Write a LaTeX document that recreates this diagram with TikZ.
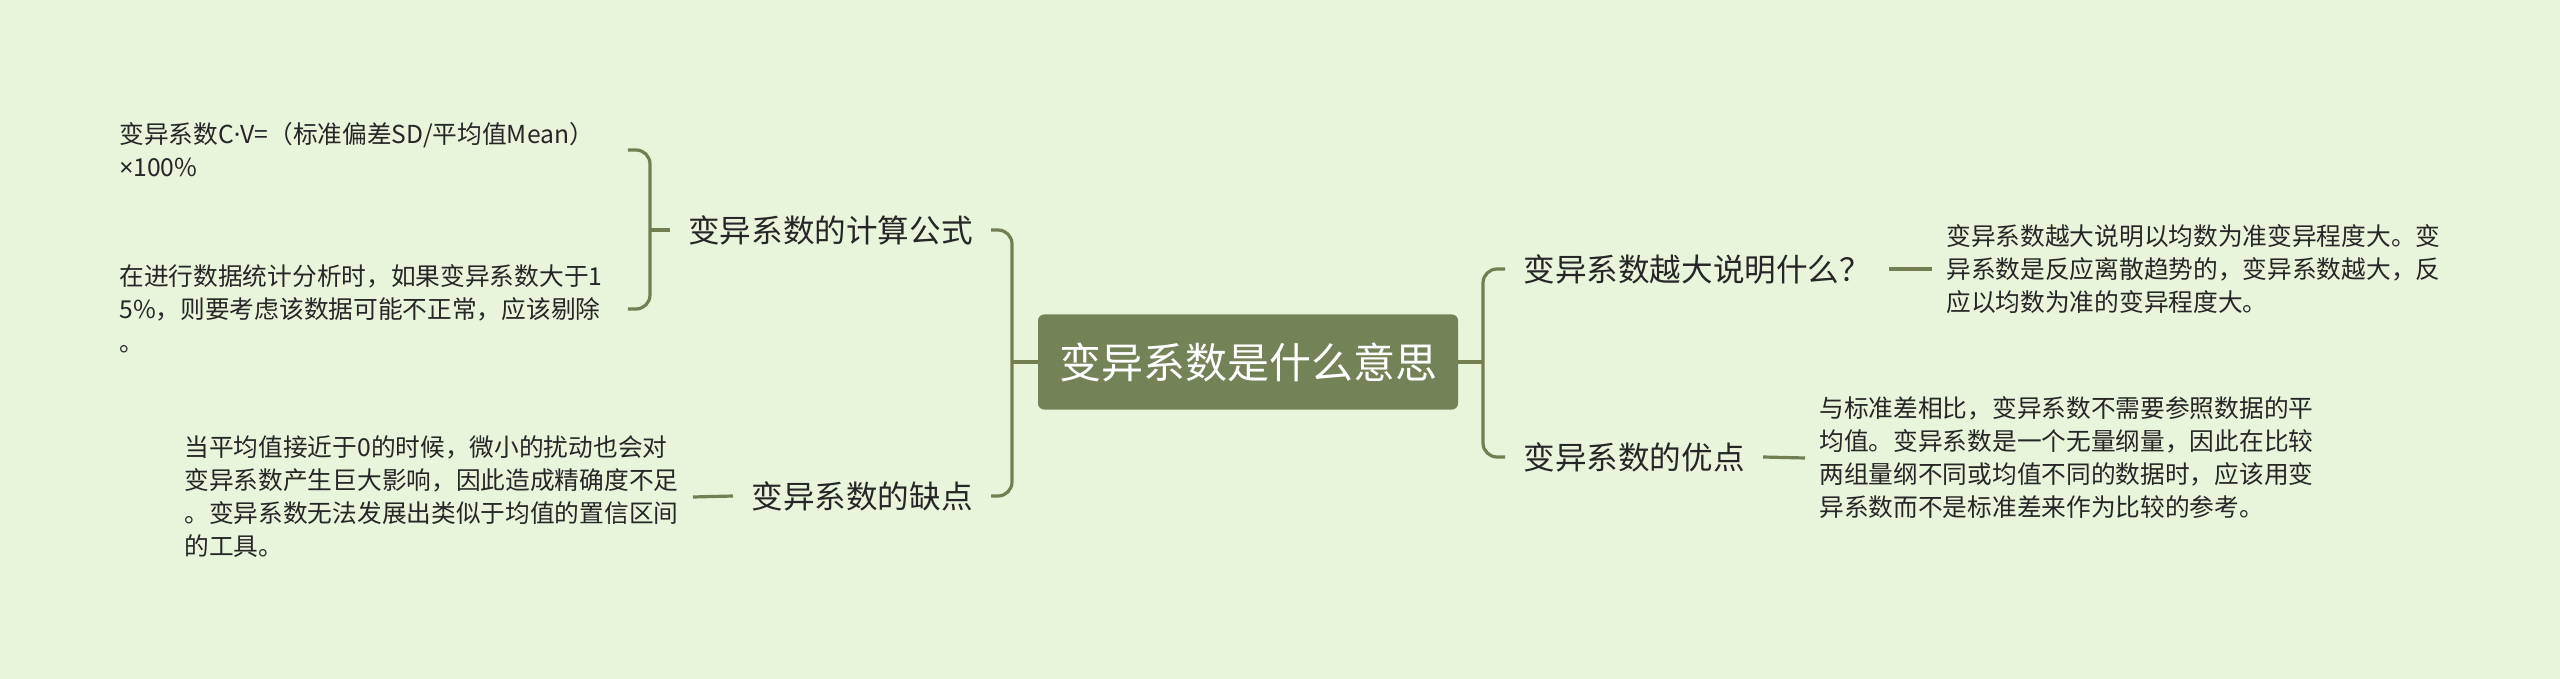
\documentclass[tikz,border=0pt]{standalone}
\usepackage{fontspec}
\setmainfont{Noto Sans CJK SC}
\newfontfamily\latinf{Noto Sans}
\definecolor{bgcol}{HTML}{E8F5DB}
\definecolor{maincol}{HTML}{748257}
\definecolor{conncol}{HTML}{737F52}
\definecolor{txtcol}{HTML}{262626}
\begin{document}
\begin{tikzpicture}[x=0.5pt,y=-0.5pt,
  conn/.style={draw=conncol, line width=1.6pt, rounded corners=7pt},
  leaf/.style={text=txtcol, font=\fontsize{12.35}{16.5}\selectfont, align=left, text width=247pt, inner xsep=7pt, inner ysep=0pt},
  branch/.style={text=txtcol, font=\fontsize{15.8}{19}\selectfont, inner xsep=9pt, inner ysep=2pt},
  root/.style={fill=maincol, text=white, rounded corners=3pt, font=\fontsize{21}{25}\selectfont, minimum width=210pt, minimum height=47.5pt}]
\fill[bgcol] (0,0) rectangle (2560,679);
\node[root] (c) at (1248,362) {变异系数是什么意思};
\coordinate (jl) at (1012,362);
\coordinate (jr) at (1483,362);
\coordinate (jb) at (650,230);
\node[branch, anchor=east] (b1) at (991,230) {变异系数的计算公式};
\node[branch, anchor=east] (b2) at (991,496) {变异系数的缺点};
\node[branch, anchor=west] (r1) at (1505,269) {变异系数越大说明什么？};
\node[branch, anchor=west] (r2) at (1505,457) {变异系数的优点};
\node[leaf, anchor=west] (l1) at (105,150) {变异系数C{\latinf ·}V=（标准偏差SD/平均值Mean）\\{\latinf ×}100\%};
\node[leaf, anchor=west] (l2) at (105,309) {在进行数据统计分析时，如果变异系数大于1\\5\%，则要考虑该数据可能不正常，应该剔除\\。};
\node[leaf, anchor=west] (l3) at (170,497) {当平均值接近于0的时候，微小的扰动也会对\\变异系数产生巨大影响，因此造成精确度不足\\。变异系数无法发展出类似于均值的置信区间\\的工具。};
\node[leaf, anchor=west] (r1l) at (1932,269) {变异系数越大说明以均数为准变异程度大。变\\异系数是反应离散趋势的，变异系数越大，反\\应以均数为准的变异程度大。};
\node[leaf, anchor=west] (r2l) at (1805,458) {与标准差相比，变异系数不需要参照数据的平\\均值。变异系数是一个无量纲量，因此在比较\\两组量纲不同或均值不同的数据时，应该用变\\异系数而不是标准差来作为比较的参考。};
\draw[conn] (c.west) -- (jl);
\draw[conn] (b1.east) -| (jl) |- (b2.east);
\draw[conn] (c.east) -- (jr);
\draw[conn] (r1.west) -| (jr) |- (r2.west);
\draw[conn] (l1.east) -| (jb) |- (l2.east);
\draw[conn] (jb) -- (b1.west);
\draw[conn] (b2.west) -- (l3.east);
\draw[conn] (r1.east) -- (r1l.west);
\draw[conn] (r2.east) -- (r2l.west);
\end{tikzpicture}
\end{document}
